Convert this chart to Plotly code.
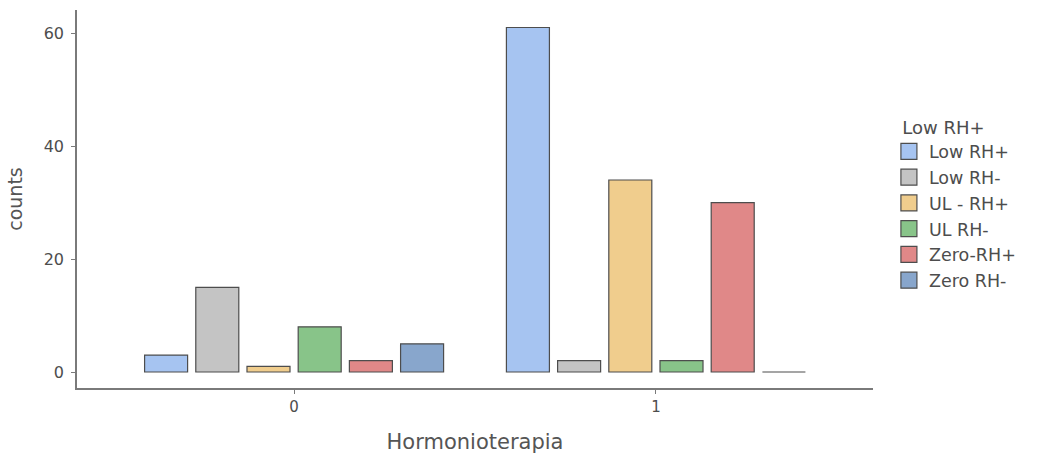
import plotly.graph_objects as go

# Counts per hormone-therapy group, split by Low RH+ category
groups = ["0", "1"]
categories = ["Low RH+", "Low RH-", "UL - RH+", "UL RH-", "Zero-RH+", "Zero RH-"]
counts = {
    "Low RH+": [3, 61],
    "Low RH-": [15, 2],
    "UL - RH+": [1, 34],
    "UL RH-": [8, 2],
    "Zero-RH+": [2, 30],
    "Zero RH-": [5, 0],
}
colors = ["#a6c4f1", "#c4c4c4", "#f0cd8d", "#88c489", "#e08888", "#88a6cc"]

FONT = "DejaVu Sans"
EDGE = "#4d4d4d"

fig = go.Figure()
for cat, col in zip(categories, colors):
    fig.add_trace(go.Bar(
        x=groups,
        y=counts[cat],
        name=cat,
        showlegend=False,
        marker=dict(color=col, line=dict(color=EDGE, width=1.2)),
    ))

# Legend keys as large filled squares
for cat, col in zip(categories, colors):
    fig.add_trace(go.Scatter(
        x=[None], y=[None],
        mode="markers",
        name=cat,
        marker=dict(symbol="square", size=16, color=col, line=dict(color=EDGE, width=1.2)),
    ))

fig.update_layout(
    width=1054,
    height=459,
    margin=dict(l=77, r=181, t=10, b=71),
    paper_bgcolor="white",
    plot_bgcolor="white",
    barmode="group",
    bargap=0.151,
    bargroupgap=0.16,
    font=dict(family=FONT, color="#4d4d4d"),
    legend=dict(
        title=dict(text="&nbsp;&nbsp;Low RH+", font=dict(size=18, color="#4d4d4d")),
        font=dict(size=17.5, color="#4d4d4d"),
        x=1.02, xanchor="left",
        y=0.735, yanchor="top",
        tracegroupgap=0,
        itemsizing="trace",
        itemwidth=30,
    ),
    showlegend=True,
)

fig.update_xaxes(
    type="category",
    range=[-0.6, 1.6],
    showgrid=False,
    zeroline=False,
    showline=True,
    linecolor="#7a7a7a",
    linewidth=1.5,
    ticks="outside",
    ticklen=4,
    tickcolor="#7a7a7a",
    tickfont=dict(size=15, color="#4d4d4d"),
    title=dict(text="Hormonioterapia", font=dict(size=21, color="#555555"), standoff=20),
)
fig.update_yaxes(
    range=[-2.83, 64.1],
    tickvals=[0, 20, 40, 60],
    showgrid=False,
    zeroline=False,
    showline=True,
    linecolor="#7a7a7a",
    linewidth=1.5,
    ticks="outside",
    ticklen=4,
    tickcolor="#7a7a7a",
    ticklabelstandoff=4,
    tickfont=dict(size=16, color="#4d4d4d"),
    title=dict(text="counts", font=dict(size=19, color="#555555"), standoff=16),
)

fig.write_html("out.html")
